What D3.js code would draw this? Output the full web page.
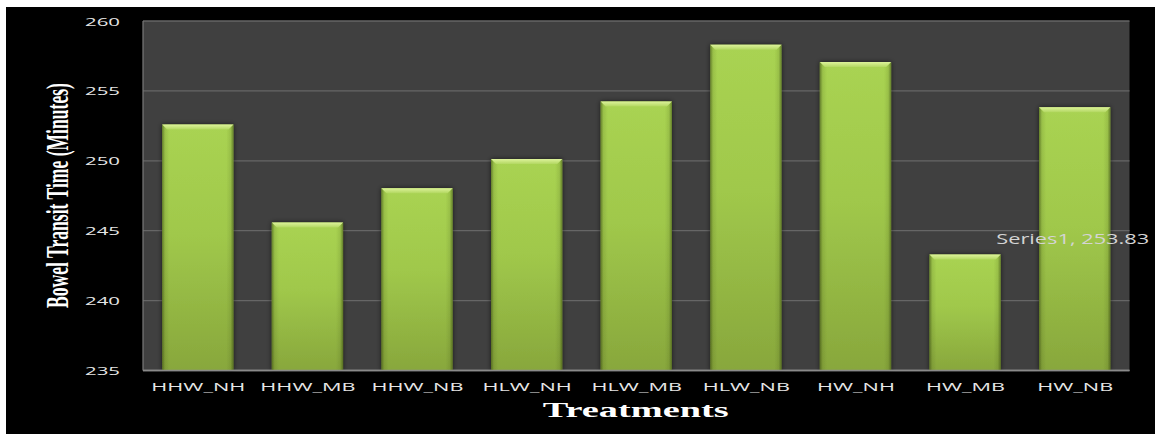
<!DOCTYPE html>
<html>
<head>
<meta charset="utf-8">
<script src="https://cdn.jsdelivr.net/npm/d3@7"></script>
<style>
  html, body { margin: 0; padding: 0; background: #ffffff; }
  svg { display: block; }
</style>
</head>
<body>
<svg id="chart" width="1155" height="434"></svg>
<script>
const categories = ["HHW_NH", "HHW_MB", "HHW_NB", "HLW_NH", "HLW_MB", "HLW_NB", "HW_NH", "HW_MB", "HW_NB"];
const values = [252.59, 245.58, 248.04, 250.12, 254.24, 258.30, 257.06, 243.29, 253.83];
const yTicks = [235, 240, 245, 250, 255, 260];
const seriesName = "Series1";
const labelIndex = 8;
const xTitle = "Treatments";
const yTitle = "Bowel Transit Time (Minutes)";

const svg = d3.select("#chart");
const W = 1155, H = 434;
const plot = { left: 143, right: 1129.5, top: 21, bottom: 370.5 };

// background panel
svg.append("rect").attr("x", 6).attr("y", 7).attr("width", W - 6).attr("height", H - 7).attr("fill", "#000000");
svg.append("rect").attr("x", plot.left).attr("y", plot.top)
  .attr("width", plot.right - plot.left).attr("height", plot.bottom - plot.top).attr("fill", "#404040");

const x = d3.scaleBand().domain(categories).range([plot.left, plot.right]).padding(0);
const y = d3.scaleLinear().domain([235, 260]).range([plot.bottom, plot.top]);

const defs = svg.append("defs");
const gv = defs.append("linearGradient").attr("id", "barV").attr("x1", 0).attr("y1", 0).attr("x2", 0).attr("y2", 1);
gv.append("stop").attr("offset", "0%").attr("stop-color", "#a9d352");
gv.append("stop").attr("offset", "45%").attr("stop-color", "#a0c84b");
gv.append("stop").attr("offset", "100%").attr("stop-color", "#88a73c");
const gh = defs.append("linearGradient").attr("id", "barH").attr("x1", 0).attr("y1", 0).attr("x2", 1).attr("y2", 0);
gh.append("stop").attr("offset", "0%").attr("stop-color", "#2f3f0c").attr("stop-opacity", 0.55);
gh.append("stop").attr("offset", "4%").attr("stop-color", "#2f3f0c").attr("stop-opacity", 0.12);
gh.append("stop").attr("offset", "10%").attr("stop-color", "#2f3f0c").attr("stop-opacity", 0);
gh.append("stop").attr("offset", "90%").attr("stop-color", "#2f3f0c").attr("stop-opacity", 0);
gh.append("stop").attr("offset", "96%").attr("stop-color", "#2f3f0c").attr("stop-opacity", 0.12);
gh.append("stop").attr("offset", "100%").attr("stop-color", "#2f3f0c").attr("stop-opacity", 0.55);
const gb = defs.append("linearGradient").attr("id", "bevel").attr("x1", 0).attr("y1", 0).attr("x2", 0).attr("y2", 1);
gb.append("stop").attr("offset", "0%").attr("stop-color", "#dcf29a");
gb.append("stop").attr("offset", "100%").attr("stop-color", "#b2d760");
const sh = defs.append("filter").attr("id", "shadow").attr("x", "-20%").attr("y", "-20%").attr("width", "140%").attr("height", "140%");
sh.append("feGaussianBlur").attr("in", "SourceAlpha").attr("stdDeviation", 2.5).attr("result", "b");
sh.append("feOffset").attr("in", "b").attr("dx", 0).attr("dy", 0).attr("result", "o");
sh.append("feComponentTransfer").attr("in", "o").attr("result", "s")
  .append("feFuncA").attr("type", "linear").attr("slope", 0.6);
const mg = sh.append("feMerge");
mg.append("feMergeNode").attr("in", "s");
mg.append("feMergeNode").attr("in", "SourceGraphic");

// gridlines
svg.append("g").selectAll("line").data(yTicks).join("line")
  .attr("x1", plot.left).attr("x2", plot.right)
  .attr("y1", d => y(d)).attr("y2", d => y(d))
  .attr("stroke", d => d === 235 ? "#8a8a8a" : "#666666").attr("stroke-width", 1.3);
svg.append("line").attr("x1", plot.left).attr("x2", plot.left).attr("y1", plot.top).attr("y2", plot.bottom)
  .attr("stroke", "#7a7a7a").attr("stroke-width", 1.2);

// bars
const barFrac = 0.65;
const bw = x.bandwidth() * barFrac;
const bars = svg.append("g").selectAll("g").data(categories).join("g")
  .attr("filter", "url(#shadow)");
bars.each(function(c, i) {
  const g = d3.select(this);
  const bx = x(c) + (x.bandwidth() - bw) / 2;
  const by = y(values[i]);
  const bh = plot.bottom - by;
  g.append("rect").attr("x", bx).attr("y", by).attr("width", bw).attr("height", bh).attr("fill", "url(#barV)");
  g.append("rect").attr("x", bx).attr("y", by).attr("width", bw).attr("height", bh).attr("fill", "url(#barH)");
  const bv = 5;
  g.append("path")
    .attr("d", `M${bx},${by} L${bx + bw},${by} L${bx + bw - bv},${by + bv} L${bx + bv},${by + bv} Z`)
    .attr("fill", "url(#bevel)");
});
// axis line on top of bars
svg.append("line").attr("x1", plot.left).attr("x2", plot.right).attr("y1", plot.bottom).attr("y2", plot.bottom)
  .attr("stroke", "#8a8a8a").attr("stroke-width", 1.3);

// helper: measure natural width
function natural(str, font, size, weight) {
  const t = svg.append("text").attr("font-family", font).attr("font-size", size).attr("font-weight", weight).text(str);
  const n = t.node().getComputedTextLength();
  t.remove();
  return n;
}
// stretched text placed with a transform (pos = [x, y], optional rotation)
function addText(parent, str, pos, opts) {
  const f = opts.factor;
  const rot = opts.rotate ? ` rotate(${opts.rotate})` : "";
  return parent.append("text")
    .attr("transform", `translate(${pos[0]},${pos[1]})${rot} scale(${f},1)`)
    .attr("text-anchor", opts.anchor)
    .attr("font-family", opts.font).attr("font-size", opts.size)
    .attr("font-weight", opts.weight || "normal").attr("fill", opts.fill)
    .text(str);
}

const sansFont = "'Open Sans', 'DejaVu Sans', sans-serif";
const serifFont = "'Liberation Serif', 'Times New Roman', serif";

// y tick labels
const yf = 35 / natural("260", sansFont, 10.5, "normal");
const gy = svg.append("g");
yTicks.forEach(t => addText(gy, String(t), [120, y(t) + 4.5],
  { factor: yf, anchor: "end", font: sansFont, size: 10.5, fill: "#e6e6e6" }));

// x tick labels
const xf = 94 / natural("HHW_NH", sansFont, 10.8, "normal");
const gx = svg.append("g");
categories.forEach(c => addText(gx, c, [x(c) + x.bandwidth() / 2 + 0.5, 391],
  { factor: xf, anchor: "middle", font: sansFont, size: 10.8, fill: "#e6e6e6" }));

// x title
const tf = 186 / natural(xTitle, serifFont, 21, "bold");
addText(svg, xTitle, [(plot.left + plot.right) / 2 - 0.5, 417],
  { factor: tf, anchor: "middle", font: serifFont, size: 21, weight: "bold", fill: "#ffffff" });

// y title (rotated)
const ytf = 225 / natural(yTitle, serifFont, 31, "bold");
addText(svg, yTitle, [67.5, (83 + 308) / 2],
  { factor: ytf, rotate: -90, anchor: "middle", font: serifFont, size: 31, weight: "bold", fill: "#ffffff" });

// data label
const lblText = `${seriesName}, ${values[labelIndex].toFixed(2)}`;
const lf = 153 / natural(lblText, sansFont, 14.5, "normal");
addText(svg, lblText, [x(categories[labelIndex]) + x.bandwidth() / 2 - 2, y(245) + 13],
  { factor: lf, anchor: "middle", font: sansFont, size: 14.5, fill: "#d4d4d4" });
</script>
</body>
</html>
